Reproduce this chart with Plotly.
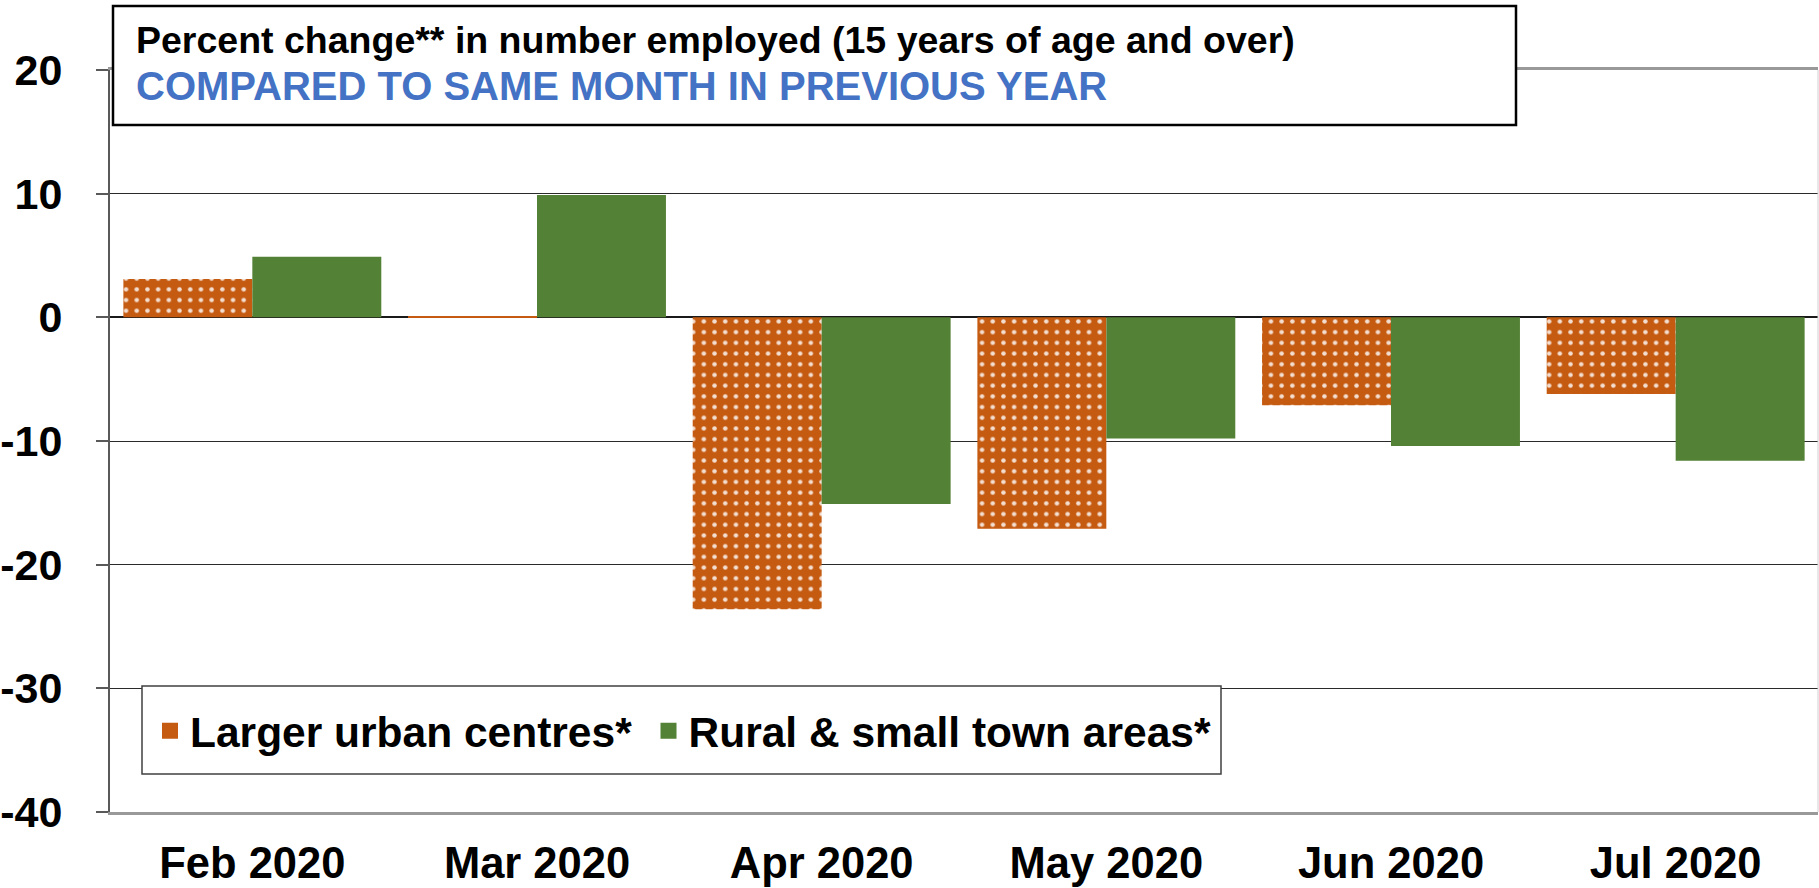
import plotly.graph_objects as go

months = ["Feb 2020", "Mar 2020", "Apr 2020", "May 2020", "Jun 2020", "Jul 2020"]
urban = [3.1, 0.1, -23.6, -17.1, -7.1, -6.2]
rural = [4.9, 9.9, -15.1, -9.8, -10.4, -11.6]
series_names = ["Larger urban centres*", "Rural & small town areas*"]
title_line1 = "Percent change** in number employed (15 years of age and over)"
title_line2 = "COMPARED TO SAME MONTH IN PREVIOUS YEAR"
y_ticks = [20, 10, 0, -10, -20, -30, -40]
y_tick_labels = ["20", "10", "0", "-10", "-20", "-30", "-40"]

W, H = 1819, 888
L, R, T, B = 110, 1818, 70, 812

def px(x):
    return (x - L) / (R - L)

def py(y):
    return (B - y) / (B - T)

FONT = "Liberation Sans, Arial, sans-serif"
ORANGE = "#C55A11"
GREEN = "#538135"

fig = go.Figure()
fig.add_trace(go.Bar(
    x=months, y=urban, name=series_names[0], legendgroup="u", showlegend=False,
    marker=dict(color=ORANGE, line=dict(width=0),
                pattern=dict(shape=".", fgcolor="white", bgcolor=ORANGE,
                             size=10.7, solidity=0.14, fgopacity=0.8)),
))
fig.add_trace(go.Bar(
    x=months, y=rural, name=series_names[1], legendgroup="r", showlegend=False,
    marker=dict(color=GREEN, line=dict(width=0)),
))
# legend entries (larger swatches, as in the original)
fig.add_trace(go.Scatter(
    x=[None], y=[None], mode="markers", name=series_names[0] + "\u00a0", legendgroup="u",
    marker=dict(symbol="square", size=22, color=ORANGE),
))
fig.add_trace(go.Scatter(
    x=[None], y=[None], mode="markers", name=series_names[1], legendgroup="r",
    marker=dict(symbol="square", size=22, color=GREEN),
))

shapes = [
    dict(type="line", xref="paper", yref="paper", x0=1, x1=1, y0=0, y1=1,
         line=dict(color="#d0d0d0", width=1)),
    dict(type="rect", xref="paper", yref="paper", layer="above",
         x0=px(113), x1=px(1516), y0=py(125), y1=py(6),
         fillcolor="white", line=dict(color="black", width=2.5)),
    dict(type="rect", xref="paper", yref="paper", layer="above",
         x0=px(142), x1=px(1221), y0=py(774), y1=py(686),
         fillcolor="white", line=dict(color="#404040", width=1.5)),
]

annotations = [
    dict(text=title_line1, xref="paper", yref="paper", x=px(134), y=py(40),
         xanchor="left", yanchor="middle", showarrow=False,
         font=dict(family=FONT, size=37.5, color="black", weight="bold")),
    dict(text=title_line2, xref="paper", yref="paper", x=px(134), y=py(86),
         xanchor="left", yanchor="middle", showarrow=False,
         font=dict(family=FONT, size=40, color="#4472C4", weight="bold")),
]

fig.update_layout(
    width=W, height=H,
    margin=dict(l=L, r=W - R, t=T, b=H - B, pad=0, autoexpand=False),
    paper_bgcolor="white", plot_bgcolor="white",
    barmode="group", bargap=0.094, bargroupgap=0,
    shapes=shapes, annotations=annotations,
    showlegend=True,
    legend=dict(orientation="h", x=px(150), xanchor="left", y=py(731), yanchor="middle",
                font=dict(family=FONT, size=42.5, color="black", weight="bold"),
                bgcolor="rgba(0,0,0,0)", borderwidth=0, traceorder="normal",
                itemclick=False, itemdoubleclick=False),
    xaxis=dict(automargin=False, showgrid=False, showline=True, mirror=True,
               linecolor="#999999", linewidth=2.5,
               ticks="", tickfont=dict(family=FONT, size=43.5, color="black", weight="bold"),
               ticklabelstandoff=11),
    yaxis=dict(automargin=False, range=[-40, 20], tickvals=y_ticks, ticktext=y_tick_labels,
               ticks="outside", ticklen=12, tickcolor="#595959", tickwidth=1.5,
               showline=True, linecolor="#595959", linewidth=2,
               showgrid=True, gridcolor="#2a2a2a", gridwidth=1,
               zeroline=True, zerolinecolor="#1a1a1a", zerolinewidth=1.5,
               tickfont=dict(family=FONT, size=43, color="black", weight="bold"),
               ticklabelstandoff=25),
)

fig.write_html("out.html", config={"displayModeBar": False},
               post_script="document.body.style.margin='0';document.body.style.overflow='hidden';")
